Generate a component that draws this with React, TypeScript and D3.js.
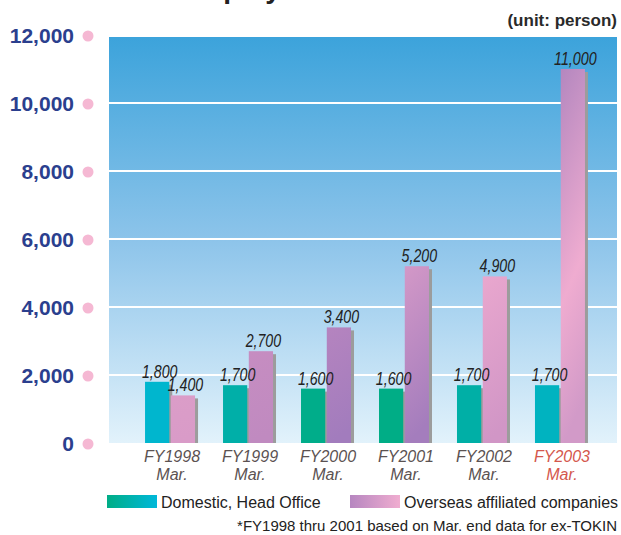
import React, { useEffect, useRef } from 'react';
import * as d3 from 'd3';

const years = ['FY1998', 'FY1999', 'FY2000', 'FY2001', 'FY2002', 'FY2003'];
const domestic = [1800, 1700, 1600, 1600, 1700, 1700];
const overseas = [1400, 2700, 3400, 5200, 4900, 11000];
const yTicks = [0, 2000, 4000, 6000, 8000, 10000, 12000];
const seriesNames = ['Domestic, Head Office', 'Overseas affiliated companies'];

// bar colours drift across the chart in the original (top -> bottom stops)
const domesticColors = ['#00B6CE', '#00AFA8', '#00AD8A', '#00AD86', '#00AFA6', '#00B3C0'];
const overseasStops = [
  ['#DB9DC8', '#D99BC8'],
  ['#C68DC1', '#C08AC0'],
  ['#B584BF', '#A27CBD'],
  ['#D398C7', '#A47DBD'],
  ['#E9A7CE', '#D196C6'],
  ['#B487BF', '#EFACD0', '#D29AC8'],
];

function App() {
  const svgRef = useRef<SVGSVGElement>(null);

  useEffect(() => {
    if (!svgRef.current) return;
    const width = 621;
    const height = 535;
    const plot = { left: 109, right: 617, top: 37, bottom: 443 };

    const svg = d3.select(svgRef.current);
    svg.selectAll('*').remove();
    svg.attr('width', width).attr('height', height);

    const defs = svg.append('defs');
    const bg = defs.append('linearGradient').attr('id', 'bg')
      .attr('x1', 0).attr('y1', 0).attr('x2', 0).attr('y2', 1);
    bg.append('stop').attr('offset', '0%').attr('stop-color', '#3CA3DB');
    bg.append('stop').attr('offset', '50%').attr('stop-color', '#8DC4EA');
    bg.append('stop').attr('offset', '100%').attr('stop-color', '#E2F2FB');

    const lg1 = defs.append('linearGradient').attr('id', 'lg1');
    lg1.append('stop').attr('offset', '0%').attr('stop-color', '#00AD86');
    lg1.append('stop').attr('offset', '100%').attr('stop-color', '#00B8DA');
    const lg2 = defs.append('linearGradient').attr('id', 'lg2');
    lg2.append('stop').attr('offset', '0%').attr('stop-color', '#B686C0');
    lg2.append('stop').attr('offset', '100%').attr('stop-color', '#F0ADD0');

    overseasStops.forEach((stops, i) => {
      const g = defs.append('linearGradient').attr('id', `ov${i}`)
        .attr('x1', 0).attr('y1', 0).attr('x2', 0.15).attr('y2', 1);
      stops.forEach((c, k) => {
        g.append('stop')
          .attr('offset', stops.length === 3 && k === 1 ? '62%' : `${(k / (stops.length - 1)) * 100}%`)
          .attr('stop-color', c);
      });
    });

    const y = d3.scaleLinear().domain([0, 12000]).range([plot.bottom, 35]);
    const x = d3.scaleBand<string>().domain(years)
      .range([131, 599]).paddingInner(0.359).paddingOuter(0.18);
    const sub = d3.scaleBand<number>().domain([0, 1]).range([0, x.bandwidth()]).paddingInner(0.06);

    // title (cropped at the top edge in the original)
    svg.append('text')
      .attr('x', 32).attr('y', -2)
      .attr('font-family', 'Liberation Sans, Arial, sans-serif')
      .attr('font-size', 28).attr('font-weight', 'bold').attr('fill', '#222')
      .text('Number of Employees');

    svg.append('text')
      .attr('x', 617).attr('y', 26).attr('text-anchor', 'end')
      .attr('font-family', 'Liberation Sans, Arial, sans-serif')
      .attr('font-size', 17).attr('font-weight', 'bold').attr('fill', '#2a2a2a')
      .text('(unit: person)');

    svg.append('rect')
      .attr('x', plot.left).attr('y', plot.top)
      .attr('width', plot.right - plot.left).attr('height', plot.bottom - plot.top)
      .attr('fill', 'url(#bg)');

    svg.append('g').selectAll('line')
      .data(yTicks.filter(t => t > 0 && t < 12000))
      .join('line')
      .attr('x1', plot.left).attr('x2', plot.right)
      .attr('y1', d => y(d)).attr('y2', d => y(d))
      .attr('stroke', '#fff').attr('stroke-width', 2);

    // y axis labels with pink dots
    const yAxis = svg.append('g');
    yAxis.selectAll('text').data(yTicks).join('text')
      .attr('x', 74).attr('y', d => y(d) + 7.5)
      .attr('text-anchor', 'end')
      .attr('font-family', 'Liberation Sans, Arial, sans-serif')
      .attr('font-size', 21).attr('font-weight', 'bold').attr('fill', '#2B3F8E')
      .text(d => d3.format(',')(d));
    yAxis.selectAll('circle').data(yTicks).join('circle')
      .attr('cx', 88).attr('cy', d => y(d) + 1).attr('r', 5.5)
      .attr('fill', '#F5B8D3');

    const groups = svg.append('g').selectAll('g').data(years).join('g')
      .attr('transform', d => `translate(${x(d)},0)`);

    const bars = [domestic, overseas];
    const fills = [
      (i: number) => domesticColors[i],
      (i: number) => `url(#ov${i})`,
    ];
    bars.forEach((vals, s) => {
      const bw = sub.bandwidth();
      // drop shadow
      groups.append('rect')
        .attr('x', sub(s)! + 3)
        .attr('y', (_, i) => y(vals[i]) + 3)
        .attr('width', bw)
        .attr('height', (_, i) => plot.bottom - y(vals[i]) - 3)
        .attr('fill', '#9C9C9C');
      groups.append('rect')
        .attr('x', sub(s)!)
        .attr('y', (_, i) => y(vals[i]))
        .attr('width', bw)
        .attr('height', (_, i) => plot.bottom - y(vals[i]))
        .attr('fill', (_, i) => fills[s](i));
    });
    bars.forEach((vals, s) => {
      groups.append('text')
        .attr('x', sub(s)! + sub.bandwidth() / 2 + 2.5)
        .attr('y', (_, i) => y(vals[i]) - 4)
        .attr('text-anchor', 'middle')
        .attr('font-family', 'Liberation Sans, Arial, sans-serif')
        .attr('font-style', 'italic')
        .attr('font-size', 19).attr('fill', '#222')
        .attr('textLength', (_, i) => d3.format(',')(vals[i]).length * 7.1)
        .attr('lengthAdjust', 'spacingAndGlyphs')
        .text((_, i) => d3.format(',')(vals[i]));
    });

    // category labels
    const lab = groups.append('text')
      .attr('text-anchor', 'middle')
      .attr('font-family', 'Liberation Sans, Arial, sans-serif')
      .attr('font-style', 'italic').attr('font-size', 16)
      .attr('fill', (d, i) => (i === years.length - 1 ? '#D4574D' : '#5B5252'));
    lab.append('tspan').attr('x', x.bandwidth() / 2 + 2).attr('y', 462).text(d => d);
    lab.append('tspan').attr('x', x.bandwidth() / 2 + 2).attr('y', 480).text('Mar.');

    // legend
    const legend = svg.append('g');
    [107, 350].forEach((lx, i) => {
      legend.append('rect')
        .attr('x', lx).attr('y', 495).attr('width', 50).attr('height', 13)
        .attr('fill', `url(#lg${i + 1})`);
      legend.append('text')
        .attr('x', lx + 54).attr('y', 508)
        .attr('font-family', 'Liberation Sans, Arial, sans-serif')
        .attr('font-size', 16).attr('fill', '#222')
        .text(seriesNames[i]);
    });

    svg.append('text')
      .attr('x', 617).attr('y', 531).attr('text-anchor', 'end')
      .attr('font-family', 'Liberation Sans, Arial, sans-serif')
      .attr('font-size', 15).attr('fill', '#222')
      .text('*FY1998 thru 2001 based on Mar. end data for ex-TOKIN');
  }, []);

  return (
    <div style={{ position: 'absolute', left: 0, top: 0 }}>
      <svg ref={svgRef} style={{ display: 'block' }}></svg>
    </div>
  );
}

export default App;
